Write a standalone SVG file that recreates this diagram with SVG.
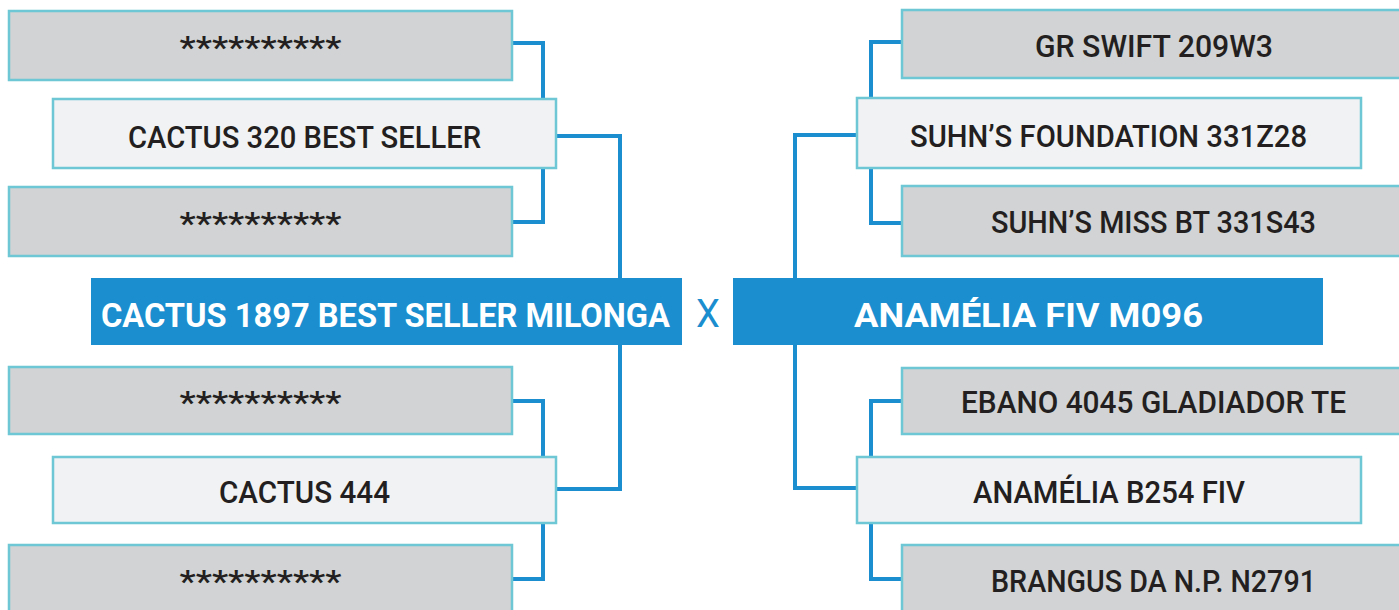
<svg xmlns="http://www.w3.org/2000/svg" width="1399" height="610" viewBox="0 0 1399 610">
<style>
.g{fill:#d1d3d4;stroke:#6dc7d4;stroke-width:2.5}
.l{fill:#f1f2f4;stroke:#6dc7d4;stroke-width:2.5}
.m{fill:#1a8ecf}
.t{font-family:Roboto,"Liberation Sans",sans-serif;font-size:32px;font-weight:500;fill:#231f20;text-anchor:middle}
.b{font-family:Roboto,"Liberation Sans",sans-serif;font-size:34px;font-weight:700;fill:#ffffff;text-anchor:middle}
.c{fill:none;stroke:#1a8ecf;stroke-width:4}
</style>
<rect width="1399" height="610" fill="#ffffff"/>
<g id="connectors" class="c">
<path d="M512,43 H543 V99"/>
<path d="M512,222 H543 V168"/>
<path d="M556,136 H620 V278"/>
<path d="M512,401 H543 V457"/>
<path d="M512,579 H543 V523"/>
<path d="M556,489 H620 V345"/>
<path d="M902,42 H871 V97"/>
<path d="M902,223 H871 V167"/>
<path d="M857,135 H795 V278"/>
<path d="M902,401 H871 V457"/>
<path d="M902,579 H871 V523"/>
<path d="M857,488 H795 V345"/>
</g>
<g id="l1"><rect class="g" x="9" y="11" width="503" height="69"/><text class="t" x="260.5" y="58" textLength="162" lengthAdjust="spacingAndGlyphs">**********</text></g>
<g id="l2"><rect class="l" x="53" y="99" width="503" height="69"/><text class="t" x="304.5" y="148" textLength="353" lengthAdjust="spacingAndGlyphs">CACTUS 320 BEST SELLER</text></g>
<g id="l3"><rect class="g" x="9" y="187" width="503" height="69"/><text class="t" x="260.5" y="234" textLength="162" lengthAdjust="spacingAndGlyphs">**********</text></g>
<g id="l4"><rect class="g" x="9" y="367" width="503" height="67"/><text class="t" x="260.5" y="413" textLength="162" lengthAdjust="spacingAndGlyphs">**********</text></g>
<g id="l5"><rect class="l" x="53" y="457" width="503" height="66"/><text class="t" x="304.5" y="503" textLength="171" lengthAdjust="spacingAndGlyphs">CACTUS 444</text></g>
<g id="l6"><rect class="g" x="9" y="545" width="503" height="70"/><text class="t" x="260.5" y="592" textLength="162" lengthAdjust="spacingAndGlyphs">**********</text></g>
<g id="mainLeft"><rect class="m" x="91" y="278" width="591" height="67"/><text class="b" x="385.5" y="327" textLength="569" lengthAdjust="spacingAndGlyphs">CACTUS 1897 BEST SELLER MILONGA</text></g>
<g id="cross"><text x="708" y="327" font-family="Roboto,'Liberation Sans',sans-serif" font-size="38" font-weight="400" fill="#1a8ecf" text-anchor="middle">X</text></g>
<g id="mainRight"><rect class="m" x="733" y="278" width="590" height="67"/><text class="b" x="1028.5" y="327" textLength="349" lengthAdjust="spacingAndGlyphs">ANAMÉLIA FIV M096</text></g>
<g id="r1"><rect class="g" x="902" y="10" width="503" height="68"/><text class="t" x="1154" y="57" textLength="238" lengthAdjust="spacingAndGlyphs">GR SWIFT 209W3</text></g>
<g id="r2"><rect class="l" x="857" y="98" width="504" height="70"/><text class="t" x="1108.5" y="147" textLength="397" lengthAdjust="spacingAndGlyphs">SUHN’S FOUNDATION 331Z28</text></g>
<g id="r3"><rect class="g" x="902" y="186" width="503" height="70"/><text class="t" x="1153.5" y="233" textLength="325" lengthAdjust="spacingAndGlyphs">SUHN’S MISS BT 331S43</text></g>
<g id="r4"><rect class="g" x="902" y="368" width="503" height="66"/><text class="t" x="1153.5" y="413" textLength="385" lengthAdjust="spacingAndGlyphs">EBANO 4045 GLADIADOR TE</text></g>
<g id="r5"><rect class="l" x="857" y="457" width="504" height="66"/><text class="t" x="1109" y="503" textLength="272" lengthAdjust="spacingAndGlyphs">ANAMÉLIA B254 FIV</text></g>
<g id="r6"><rect class="g" x="902" y="545" width="503" height="70"/><text class="t" x="1153.5" y="592" textLength="325" lengthAdjust="spacingAndGlyphs">BRANGUS DA N.P. N2791</text></g>
</svg>
